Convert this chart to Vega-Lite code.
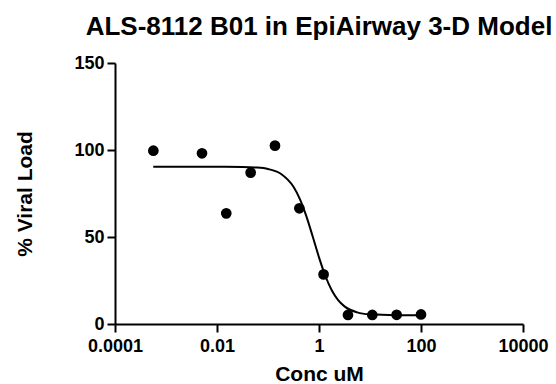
{
  "$schema": "https://vega.github.io/schema/vega-lite/v6.json",
  "width": 408,
  "height": 261,
  "autosize": {"type": "none"},
  "padding": {"left": 115, "top": 63, "right": 33, "bottom": 60},
  "background": "white",
  "title": {
    "text": "ALS-8112 B01 in EpiAirway 3-D Model",
    "font": "Liberation Sans",
    "fontSize": 26,
    "fontWeight": "bold",
    "color": "black",
    "anchor": "middle",
    "offset": 14
  },
  "datasets": {
    "points": [
      {"conc": 0.000565, "load": 99.6},
      {"conc": 0.00508, "load": 98.1},
      {"conc": 0.0152, "load": 63.6},
      {"conc": 0.0457, "load": 87},
      {"conc": 0.137, "load": 102.5},
      {"conc": 0.412, "load": 66.5},
      {"conc": 1.23, "load": 28.5},
      {"conc": 3.70, "load": 5.2},
      {"conc": 11.1, "load": 5.2},
      {"conc": 33.3, "load": 5.3},
      {"conc": 100, "load": 5.5}
    ],
    "curve": [
      {"conc": 0.000562, "load": 90.4},
      {"conc": 0.01, "load": 90.39},
      {"conc": 0.0316, "load": 90.27},
      {"conc": 0.0562, "load": 89.98},
      {"conc": 0.1, "load": 89.09},
      {"conc": 0.178, "load": 86.38},
      {"conc": 0.316, "load": 78.86},
      {"conc": 0.422, "load": 71.82},
      {"conc": 0.562, "load": 62.16},
      {"conc": 0.75, "load": 50.45},
      {"conc": 1.0, "load": 38.32},
      {"conc": 1.334, "load": 27.59},
      {"conc": 1.778, "load": 19.38},
      {"conc": 2.371, "load": 13.72},
      {"conc": 3.162, "load": 10.14},
      {"conc": 5.623, "load": 6.69},
      {"conc": 10, "load": 5.54},
      {"conc": 31.62, "load": 5.05},
      {"conc": 100, "load": 5.0}
    ]
  },
  "config": {
    "view": {"stroke": null},
    "axis": {
      "grid": false,
      "domainColor": "black",
      "domainWidth": 2,
      "tickColor": "black",
      "tickWidth": 2,
      "tickSize": 8,
      "labelFont": "Liberation Sans",
      "labelFontSize": 18,
      "labelFontWeight": "bold",
      "labelColor": "black",
      "titleFont": "Liberation Sans",
      "titleFontSize": 21,
      "titleFontWeight": "bold",
      "titleColor": "black"
    }
  },
  "layer": [
    {
      "data": {"name": "curve"},
      "mark": {"type": "line", "color": "black", "strokeWidth": 2, "interpolate": "monotone"},
      "encoding": {
        "x": {
          "field": "conc", "type": "quantitative", "title": "Conc uM",
          "scale": {"type": "log", "domain": [0.0001, 10000], "nice": false},
          "axis": {"values": [0.0001, 0.01, 1, 100, 10000], "format": "~g", "labelPadding": 5, "titlePadding": 8, "labelFlush": false, "labelOverlap": false}
        },
        "y": {
          "field": "load", "type": "quantitative", "title": "% Viral Load",
          "scale": {"domain": [0, 150], "nice": false, "zero": true},
          "axis": {"values": [0, 50, 100, 150], "labelPadding": 3, "titlePadding": 38}
        }
      }
    },
    {
      "data": {"name": "points"},
      "mark": {"type": "point", "filled": true, "shape": "circle", "size": 115, "color": "black", "opacity": 1},
      "encoding": {
        "x": {"field": "conc", "type": "quantitative", "scale": {"type": "log"}},
        "y": {"field": "load", "type": "quantitative"}
      }
    }
  ]
}
